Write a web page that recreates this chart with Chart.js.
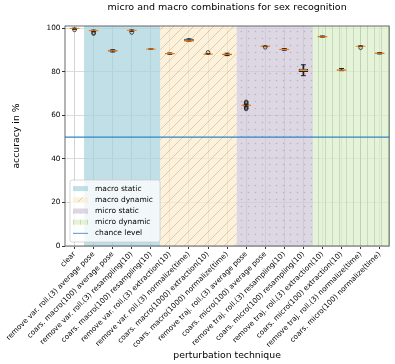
<!DOCTYPE html>
<html>
<head>
<meta charset="utf-8">
<script src="https://cdn.jsdelivr.net/npm/chart.js@4"></script>
<style>
html, body { margin: 0; padding: 0; background: #fff; }
canvas { display: block; }
</style>
</head>
<body>
<canvas id="chart" width="395" height="364"></canvas>
<script>
var categories = [
    'clear',
    'remove var. roll.(3) average pose',
    'coars. macro(100) average pose',
    'remove var. roll.(3) resampling(10)',
    'coars. macro(100) resampling(10)',
    'remove var. roll.(3) extraction(10)',
    'remove var. roll.(3) normalize(time)',
    'coars. macro(1000) extraction(10)',
    'coars. macro(1000) normalize(time)',
    'remove traj. roll.(3) average pose',
    'coars. micro(100) average pose',
    'remove traj. roll.(3) resampling(10)',
    'coars. micro(100) resampling(10)',
    'remove traj. roll.(3) extraction(10)',
    'coars. micro(100) extraction(10)',
    'remove traj. roll.(3) normalize(time)',
    'coars. micro(100) normalize(time)'
];
// box plot statistics per category (accuracy in %)
var q1      = [99.6, 98.6, 89.3, 98.8, 90.4, 88.1, 94.0, 88.0, 87.6, 64.5, 91.6, 90.0, 79.9, 96.0, 80.6, 91.7, 88.3];
var q3      = [100.0, 99.0, 89.9, 99.1, 90.4, 88.5, 95.1, 88.2, 88.3, 64.8, 91.8, 90.5, 81.4, 96.3, 81.0, 91.8, 88.7];
var medians = [99.9, 98.9, 89.6, 99.0, 90.4, 88.3, 94.1, 88.1, 88.0, 64.6, 91.7, 90.2, 80.6, 96.0, 80.7, 91.7, 88.5];
var whiskLo = [99.5, 98.4, 89.1, 98.6, 90.4, 88.0, 94.0, 88.0, 87.4, 64.2, 91.5, 89.9, 78.2, 95.9, 80.5, 91.6, 88.2];
var whiskHi = [100.0, 99.1, 90.1, 99.2, 90.4, 88.6, 95.1, 88.3, 88.5, 65.0, 91.8, 90.6, 83.2, 96.4, 81.5, 91.9, 88.8];
var flierIndex = [0, 1, 1, 3, 7, 9, 9, 9, 9, 9, 9, 10, 15];
var flierValue = [99.2, 97.9, 97.5, 98.0, 88.9, 62.9, 63.3, 63.7, 65.4, 65.8, 66.2, 91.2, 91.0];

// perturbation groups (first and last category index)
var groupNames = ['macro static', 'macro dynamic', 'micro static', 'micro dynamic'];
var groupFirst = [1, 5, 9, 13];
var groupLast  = [4, 8, 12, 16];

var chanceLevel = 50;
var yTicks = [0, 20, 40, 60, 80, 100];
var yMin = 0, yMax = 101;

Chart.defaults.font.family = 'DejaVu Sans';
Chart.defaults.color = '#000';

function makePattern(fill, kind) {
    var s = kind == 'diag' ? 10 : 7;
    var c = document.createElement('canvas');
    c.width = s; c.height = s;
    var g = c.getContext('2d');
    g.fillStyle = fill;
    g.fillRect(0, 0, s, s);
    if (kind == 'diag') {
        g.strokeStyle = 'rgba(140,140,140,0.45)';
        g.lineWidth = 0.8;
        g.beginPath();
        g.moveTo(-1, s + 1); g.lineTo(s + 1, -1);
        g.moveTo(-1, 1); g.lineTo(1, -1);
        g.moveTo(s - 1, s + 1); g.lineTo(s + 1, s - 1);
        g.stroke();
    } else if (kind == 'dots') {
        g.fillStyle = 'rgba(140,135,150,0.45)';
        g.beginPath();
        g.arc(3.5, 3.5, 0.8, 0, Math.PI * 2);
        g.fill();
    } else if (kind == 'vert') {
        g.fillStyle = 'rgba(140,165,125,0.4)';
        g.fillRect(3, 0, 0.8, s);
    }
    return g.createPattern(c, 'repeat');
}

var bandFills = [
    makePattern('rgba(166,209,219,0.7)', 'none'),
    makePattern('rgba(252,235,201,0.7)', 'diag'),
    makePattern('rgba(205,198,214,0.7)', 'dots'),
    makePattern('rgba(218,238,199,0.7)', 'vert')
];
var chanceColor = '#2f86c8';

var bandsPlugin = {
    id: 'bands',
    beforeDatasetsDraw: function(chart) {
        var ctx = chart.ctx, a = chart.chartArea, x = chart.scales.x;
        var half = (x.getPixelForValue(1) - x.getPixelForValue(0)) / 2;
        ctx.save();
        for (var g = 0; g < groupNames.length; g++) {
            var x0 = x.getPixelForValue(groupFirst[g]) - half;
            var x1 = x.getPixelForValue(groupLast[g]) + half;
            ctx.fillStyle = bandFills[g];
            ctx.fillRect(x0, a.top, x1 - x0, a.bottom - a.top);
        }
        ctx.restore();
    },
    afterDatasetsDraw: function(chart) {
        var ctx = chart.ctx, a = chart.chartArea, y = chart.scales.y;
        ctx.save();
        // chance level
        var cy = y.getPixelForValue(chanceLevel);
        ctx.strokeStyle = chanceColor;
        ctx.lineWidth = 1.2;
        ctx.beginPath();
        ctx.moveTo(a.left, cy); ctx.lineTo(a.right, cy);
        ctx.stroke();

        // legend
        var rowH = 11.2, w = 90, h = 5 * rowH + 6;
        var lx = a.left + 5, ly = a.bottom - 4 - h;
        ctx.fillStyle = 'rgba(255,255,255,0.8)';
        ctx.strokeStyle = 'rgba(200,200,200,0.9)';
        ctx.lineWidth = 0.8;
        ctx.beginPath();
        ctx.roundRect(lx, ly, w, h, 2);
        ctx.fill();
        ctx.stroke();
        ctx.font = '7.5px "DejaVu Sans"';
        ctx.textBaseline = 'middle';
        var labels = groupNames.concat(['chance level']);
        for (var i = 0; i < labels.length; i++) {
            var ry = ly + 3 + rowH * (i + 0.5);
            if (i < 4) {
                ctx.fillStyle = bandFills[i];
                ctx.fillRect(lx + 3, ry - 2.5, 15, 5);
            } else {
                ctx.strokeStyle = chanceColor;
                ctx.globalAlpha = 0.7;
                ctx.lineWidth = 1.2;
                ctx.beginPath();
                ctx.moveTo(lx + 3, ry); ctx.lineTo(lx + 18, ry);
                ctx.stroke();
                ctx.globalAlpha = 1;
            }
            ctx.fillStyle = '#000';
            ctx.fillText(labels[i], lx + 25, ry);
        }
        ctx.restore();
    },
    afterDraw: function(chart) {
        var ctx = chart.ctx, a = chart.chartArea;
        ctx.save();
        ctx.strokeStyle = '#444';
        ctx.lineWidth = 0.8;
        ctx.strokeRect(a.left, a.top, a.right - a.left, a.bottom - a.top);
        ctx.restore();
    }
};

var flierPoints = flierIndex.map(function(i, k) { return { x: categories[i], y: flierValue[k] }; });

new Chart(document.getElementById('chart'), {
    type: 'bar',
    data: {
        labels: categories,
        datasets: [
            {
                label: 'whiskers',
                data: whiskLo.map(function(v, i) { return [v, whiskHi[i]]; }),
                backgroundColor: '#222',
                borderWidth: 0,
                barThickness: 1,
                grouped: false,
                order: 5
            },
            {
                label: 'boxes',
                data: q1.map(function(v, i) { return [v, q3[i]]; }),
                backgroundColor: '#fff',
                borderColor: '#222',
                borderWidth: 1,
                borderSkipped: false,
                barPercentage: 0.5,
                categoryPercentage: 1,
                grouped: false,
                order: 4
            },
            {
                type: 'line',
                label: 'caps low',
                data: whiskLo,
                showLine: false,
                pointStyle: 'line',
                pointRadius: 2.5,
                borderColor: '#222',
                borderWidth: 1,
                order: 3
            },
            {
                type: 'line',
                label: 'caps high',
                data: whiskHi,
                showLine: false,
                pointStyle: 'line',
                pointRadius: 2.5,
                borderColor: '#222',
                borderWidth: 1,
                order: 3
            },
            {
                type: 'line',
                label: 'medians',
                data: medians,
                showLine: false,
                pointStyle: 'line',
                pointRadius: 4.8,
                borderColor: '#ff7f0e',
                borderWidth: 1,
                order: 2
            },
            {
                type: 'line',
                label: 'fliers',
                data: flierPoints,
                showLine: false,
                pointStyle: 'circle',
                pointRadius: 1.8,
                borderColor: '#222',
                backgroundColor: 'rgba(0,0,0,0)',
                borderWidth: 0.8,
                order: 1
            }
        ]
    },
    options: {
        responsive: false,
        animation: false,
        layout: { padding: { right: 4 } },
        plugins: {
            legend: { display: false },
            tooltip: { enabled: false },
            title: {
                display: true,
                text: 'micro and macro combinations for sex recognition',
                fullSize: false,
                font: { size: 9.5, weight: 'normal' },
                padding: { top: 2, bottom: 12.6 }
            }
        },
        scales: {
            x: {
                offset: true,
                grid: { offset: false, color: '#d4d4d4', tickColor: '#333', tickLength: 3 },
                border: { display: false },
                ticks: { autoSkip: false, maxRotation: 45, minRotation: 45, padding: 1, font: { size: 7.3 } },
                title: { display: true, text: 'perturbation technique', font: { size: 9.3 }, padding: { top: 2, bottom: 3 } },
                afterFit: function(scale) { scale.height = 118; }
            },
            y: {
                min: yMin,
                max: yMax,
                grid: { color: '#dcdcdc', tickColor: '#333', tickLength: 3 },
                border: { display: false },
                ticks: { padding: 1.5, font: { size: 7.3 } },
                afterBuildTicks: function(scale) { scale.ticks = yTicks.map(function(v) { return { value: v }; }); },
                title: { display: true, text: 'accuracy in %', font: { size: 9.3 }, padding: { top: 11, bottom: 0 } },
                afterFit: function(scale) { scale.width = 65; }
            }
        }
    },
    plugins: [bandsPlugin]
});
</script>
</body>
</html>
